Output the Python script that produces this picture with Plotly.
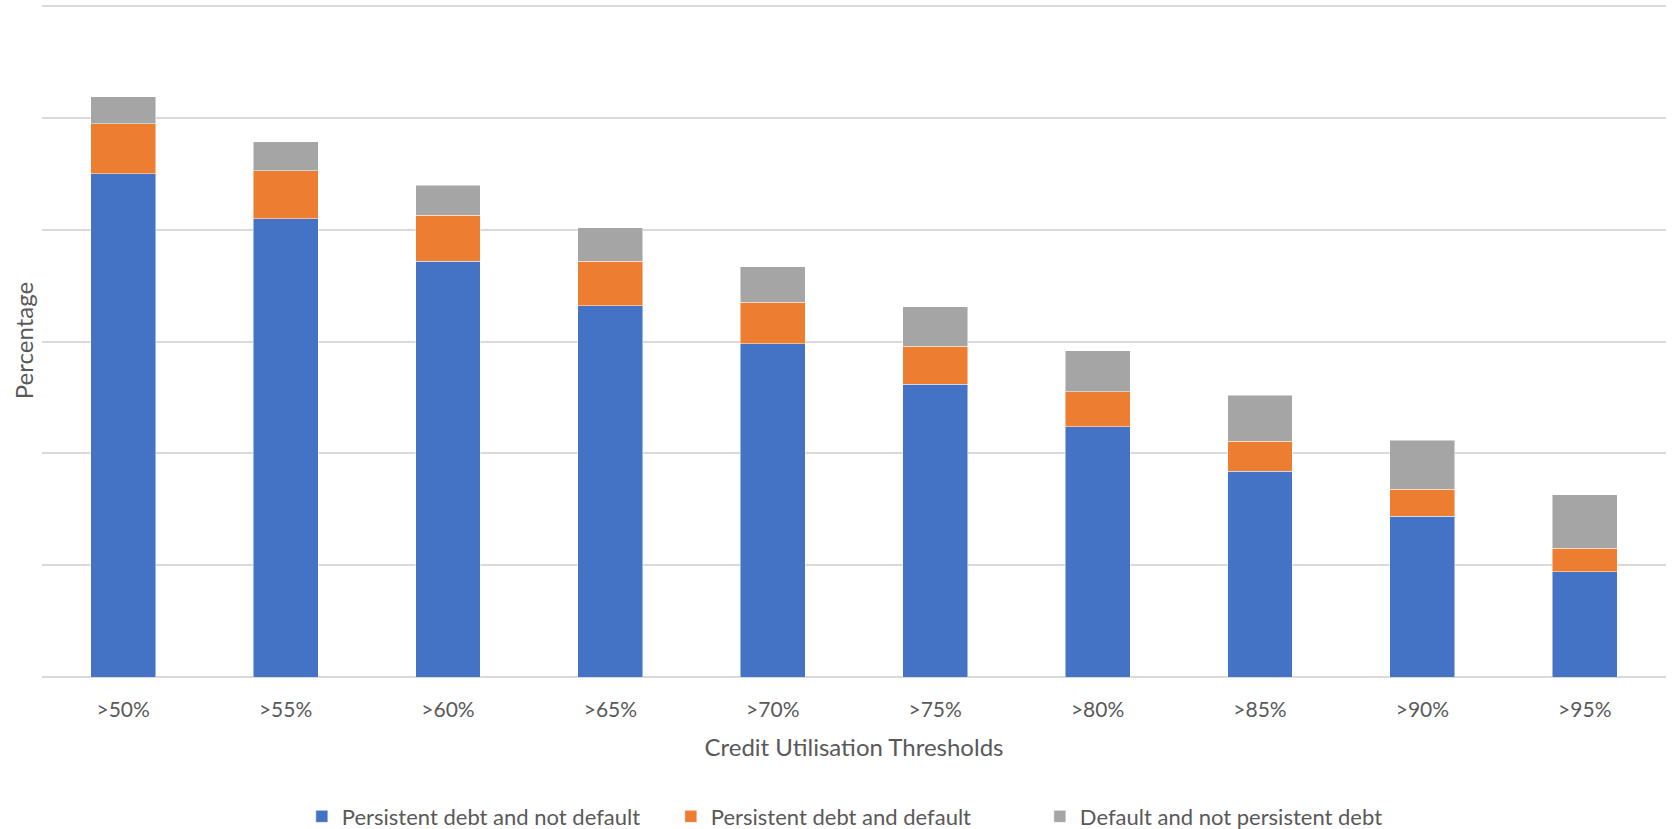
import plotly.graph_objects as go

thresholds = [">50%", ">55%", ">60%", ">65%", ">70%", ">75%", ">80%", ">85%", ">90%", ">95%"]
persistent_not_default = [22.5, 20.5, 18.6, 16.6, 14.9, 13.1, 11.2, 9.2, 7.2, 4.7]
persistent_and_default = [2.25, 2.15, 2.05, 2.0, 1.85, 1.7, 1.55, 1.35, 1.2, 1.05]
default_not_persistent = [1.2, 1.3, 1.35, 1.5, 1.6, 1.75, 1.85, 2.05, 2.2, 2.4]

series = [
    ("Persistent debt and not default", persistent_not_default, "#4472C4"),
    ("Persistent debt and default", persistent_and_default, "#ED7D31"),
    ("Default and not persistent debt", default_not_persistent, "#A5A5A5"),
]

FONT = "Lato, 'Open Sans', sans-serif"
TEXT = "#595959"
GRID = "#D9D9D9"

fig = go.Figure()
for name, vals, color in series:
    fig.add_trace(go.Bar(
        x=thresholds, y=vals, name=name,
        marker=dict(color=color, line=dict(color="rgba(255,255,255,0.6)", width=0.8)),
    ))

fig.update_layout(
    barmode="stack",
    bargap=0.6,
    width=1673, height=829,
    margin=dict(l=42, r=7, t=4, b=152, pad=0, autoexpand=False),
    paper_bgcolor="white", plot_bgcolor="white",
    font=dict(family=FONT, color=TEXT, size=21),
    showlegend=True,
    legend=dict(
        orientation="h",
        x=0.160, xanchor="left",
        yref="container", y=0.015, yanchor="middle",
        font=dict(family=FONT, size=22, color=TEXT),
        itemwidth=30, traceorder="normal",
        entrywidth=324, entrywidthmode="pixels",
    ),
    xaxis=dict(
        title=dict(text="Credit Utilisation Thresholds", font=dict(size=24, color=TEXT), standoff=18),
        ticks="outside", ticklen=14, tickcolor="rgba(0,0,0,0)",
        tickfont=dict(size=21, color=TEXT),
        showline=False, showgrid=False,
    ),
    yaxis=dict(
        title=dict(text="Percentage", font=dict(size=24, color=TEXT), standoff=0),
        range=[0, 30.1], tick0=0, dtick=5, showticklabels=False,
        showgrid=True, gridcolor=GRID, gridwidth=1.5,
        zeroline=True, zerolinecolor=GRID, zerolinewidth=1.5,
        ticks="",
    ),
)

fig.write_html("out.html")
